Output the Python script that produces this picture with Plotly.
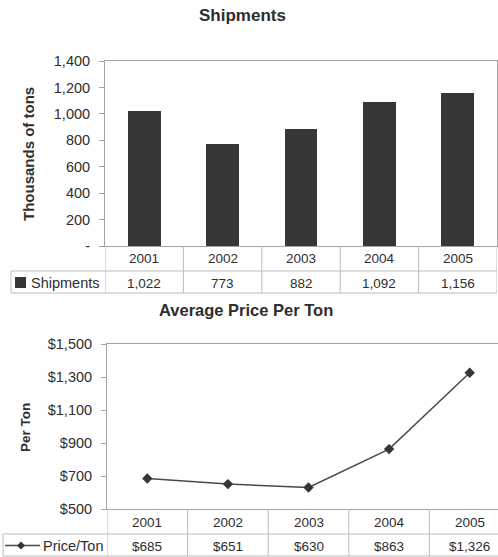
import plotly.graph_objects as go

# ---- data -------------------------------------------------------------
years = ["2001", "2002", "2003", "2004", "2005"]
shipments = [1022, 773, 882, 1092, 1156]          # thousands of tons
price_per_ton = [685, 651, 630, 863, 1326]        # dollars

ship_tickvals = [0, 200, 400, 600, 800, 1000, 1200, 1400]
ship_ticktext = ["-", "200", "400", "600", "800", "1,000", "1,200", "1,400"]
price_tickvals = [500, 700, 900, 1100, 1300, 1500]
price_ticktext = ["$500", "$700", "$900", "$1,100", "$1,300", "$1,500"]

# ---- page geometry (pixels) -------------------------------------------
W, H = 498, 557
FONT = "Liberation Sans"
TXT = "#2e2e2e"
AXIS_C = "#a4a4a4"
GRID_C = "#bcbcbc"
DARK = "#363636"


def px(x):
    return x / W


def py(y):
    return 1 - y / H


fig = go.Figure()

# Shipments bars
fig.add_trace(go.Bar(
    x=list(range(len(years))), y=shipments, width=0.42,
    marker=dict(color=DARK, line=dict(width=0)),
    xaxis="x", yaxis="y", showlegend=False, hoverinfo="skip",
))

# Price per ton line
fig.add_trace(go.Scatter(
    x=list(range(len(years))), y=price_per_ton, mode="lines+markers",
    line=dict(color="#4a4a4a", width=1.5),
    marker=dict(symbol="diamond", size=8, color=DARK),
    xaxis="x2", yaxis="y2", showlegend=False, hoverinfo="skip",
))

tickfont = dict(family=FONT, size=14.5, color=TXT)

# column width of the bottom panel runs past the page edge
bot_left, bot_col = 107, 80.6
bot_xmax = -0.5 + (W - bot_left) / bot_col

fig.update_layout(
    width=W, height=H,
    margin=dict(l=0, r=0, t=0, b=0),
    paper_bgcolor="white", plot_bgcolor="white",
    font=dict(family=FONT, color=TXT),
    bargap=0,
    xaxis=dict(domain=[px(105), px(497)], range=[-0.5, 4.5],
               showticklabels=False, ticks="", showgrid=False, zeroline=False,
               showline=True, mirror=True, linecolor=AXIS_C, linewidth=1,
               anchor="y", fixedrange=True),
    yaxis=dict(domain=[py(246), py(61)], range=[0, 1400],
               tickvals=ship_tickvals, ticktext=ship_ticktext,
               tickfont=tickfont, ticks="outside", ticklen=5, tickcolor=AXIS_C,
               ticklabelstandoff=6,
               showgrid=False, zeroline=False, automargin=False,
               showline=True, mirror=True, linecolor=AXIS_C, linewidth=1,
               anchor="x", fixedrange=True),
    xaxis2=dict(domain=[px(bot_left), 1.0], range=[-0.5, bot_xmax],
                showticklabels=False, ticks="", showgrid=False, zeroline=False,
                showline=True, mirror=True, linecolor=AXIS_C, linewidth=1,
                anchor="y2", fixedrange=True),
    yaxis2=dict(domain=[py(509), py(344)], range=[500, 1500],
                tickvals=price_tickvals, ticktext=price_ticktext,
                tickfont=tickfont, ticks="outside", ticklen=5, tickcolor=AXIS_C,
                ticklabelstandoff=6,
                showgrid=False, zeroline=False, automargin=False,
                showline=True, mirror=False, linecolor=AXIS_C, linewidth=1,
                anchor="x2", fixedrange=True),
)

shapes = []
annotations = []


def hline(x0, x1, y):
    shapes.append(dict(type="line", xref="paper", yref="paper",
                       x0=px(x0), x1=px(x1), y0=py(y), y1=py(y),
                       line=dict(color=GRID_C, width=1)))


def vline_px(x, y0, y1):
    shapes.append(dict(type="line", xref="paper", yref="paper",
                       x0=px(x), x1=px(x), y0=py(y0), y1=py(y1),
                       line=dict(color=GRID_C, width=1)))


def vline_data(xref, xv, y0, y1):
    shapes.append(dict(type="line", xref=xref, yref="paper",
                       x0=xv, x1=xv, y0=py(y0), y1=py(y1),
                       line=dict(color=GRID_C, width=1)))


def text(x, y, s, size=13.5, bold=False, xref="paper", anchor="center", angle=0):
    annotations.append(dict(
        x=(px(x) if xref == "paper" else x), y=py(y), xref=xref, yref="paper",
        text=s, showarrow=False, xanchor=anchor, yanchor="middle",
        textangle=angle,
        font=dict(family=FONT, size=size, color=TXT,
                  weight=("bold" if bold else "normal")),
    ))


# ---- titles ------------------------------------------------------------
text(242, 16, "Shipments", size=17, bold=True)
text(245.5, 310, "Average Price Per Ton", size=16.5, bold=True)
text(28, 154, "Thousands of tons", size=15, bold=True, angle=-90)
text(25, 428, "Per Ton", size=13.5, bold=True, angle=-90)

# ---- data table under the bar chart -----------------------------------
hline(11, 497, 271)
hline(11, 497, 293)
vline_px(11, 271, 293)
for i in range(len(years) + 1):
    vline_data("x", i - 0.5, 246, 293)
for i, (yr, v) in enumerate(zip(years, shipments)):
    text(i, 258.5, yr, xref="x")
    text(i, 283, f"{v:,}", xref="x")
# legend key: filled square + series name
shapes.append(dict(type="rect", xref="paper", yref="paper",
                   x0=px(15), x1=px(26), y0=py(288), y1=py(277),
                   fillcolor=DARK, line=dict(width=0)))
text(29, 282.5, "Shipments", size=14.5, anchor="left")

# ---- data table under the line chart ----------------------------------
hline(3, W, 534)
hline(3, W, 556)
vline_px(3, 534, 556)
for i in range(len(years)):
    vline_data("x2", i - 0.5, 509, 556)
for i, (yr, v) in enumerate(zip(years, price_per_ton)):
    text(i, 522, yr, xref="x2")
    text(i, 546, f"${v:,}", xref="x2")
# legend key: line with a diamond marker + series name
shapes.append(dict(type="line", xref="paper", yref="paper",
                   x0=px(5), x1=px(40), y0=py(545.5), y1=py(545.5),
                   line=dict(color="#4a4a4a", width=1.5)))
cx, cy, r = 21, 545.5, 4
shapes.append(dict(type="path", xref="paper", yref="paper",
                   path=(f"M {px(cx)} {py(cy - r)} L {px(cx + r)} {py(cy)} "
                         f"L {px(cx)} {py(cy + r)} L {px(cx - r)} {py(cy)} Z"),
                   fillcolor=DARK, line=dict(width=0)))
text(41, 545.5, "Price/Ton", size=14.5, anchor="left")

fig.update_layout(shapes=shapes, annotations=annotations)

fig.write_html("out.html", config={"displayModeBar": False})
